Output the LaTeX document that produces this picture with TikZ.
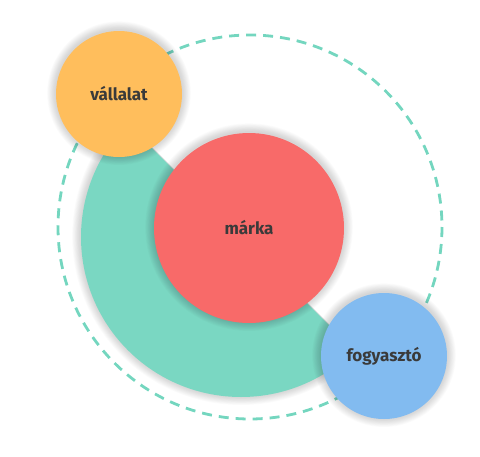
\documentclass[tikz,border=0pt]{standalone}
\usepackage{fontspec}
\setmainfont{Fira Sans}
\definecolor{cOrange}{HTML}{FFBE5C}
\definecolor{cRed}{HTML}{F86A69}
\definecolor{cTeal}{HTML}{7AD7C2}
\definecolor{cBlue}{HTML}{82BBF0}
\definecolor{cDash}{HTML}{74D6BF}
\definecolor{cText}{HTML}{3A3A3A}
\tikzset{
  bubble/.style={circle, inner sep=0pt, text=cText, font=\fontsize{17}{20}\selectfont\bfseries},
  dashring/.style={draw=cDash, line width=2.8pt, dash pattern=on 10pt off 7pt},
  shadowfill/.style={fill=black, opacity=0.016},
}
\newcommand{\softshadow}[2]{%
  \foreach \k in {1,...,11}{\fill[shadowfill] ([yshift=0.8pt]#1) circle ({#2+\k*0.8});}%
}
\begin{document}
\begin{tikzpicture}[x=1pt,y=-1pt]
\useasboundingbox (0,0) rectangle (480,456);
% dashed ring
\coordinate (ringc) at (250,227);
\draw[dashring] (ringc) circle (192);
% teal half disk
\coordinate (tealc) at (241,237);
\foreach \k in {1,...,11}{
  \fill[shadowfill] ([yshift=0.8pt]tealc) -- ++(45:{160+\k*0.8}) arc[start angle=45, end angle=225, radius={160+\k*0.8}] -- cycle;
}
\fill[cTeal] (tealc) -- ++(45:160) arc[start angle=45, end angle=225, radius=160] -- cycle;
% red
\coordinate (rc) at (249,228);
\softshadow{rc}{95}
\node[bubble, fill=cRed, minimum size=190pt] (marka) at (rc) {márka};
% orange
\coordinate (oc) at (119,94);
\softshadow{oc}{63}
\node[bubble, fill=cOrange, minimum size=126pt] (vallalat) at (oc) {vállalat};
% blue
\coordinate (bc) at (384,356);
\softshadow{bc}{63}
\node[bubble, fill=cBlue, minimum size=126pt] (fogyaszto) at (bc) {fogyasztó};
\end{tikzpicture}
\end{document}
